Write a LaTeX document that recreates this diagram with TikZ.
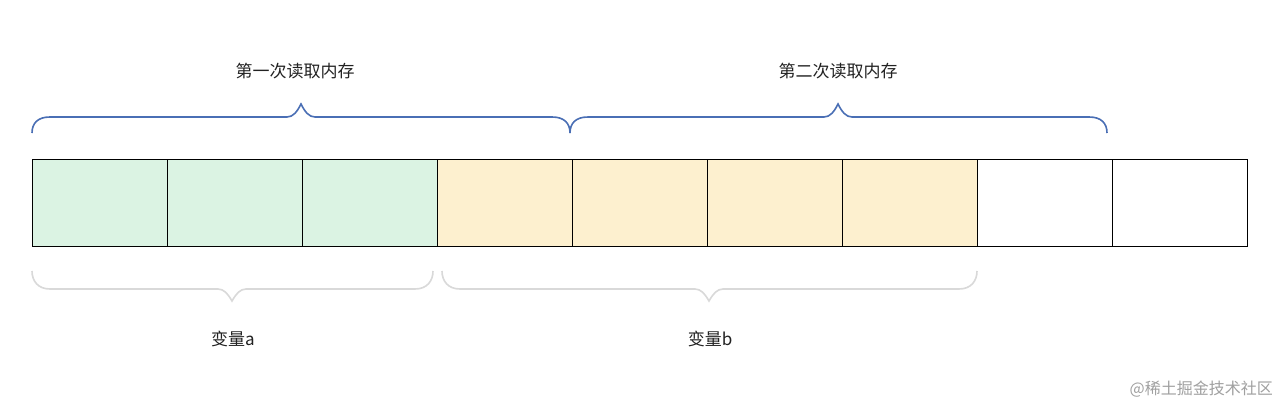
\documentclass[tikz,border=0pt]{standalone}
\usepackage{fontspec}
\setmainfont{Noto Sans CJK SC}
\definecolor{cellgreen}{HTML}{DBF3E3}
\definecolor{cellyellow}{HTML}{FDF0CF}
\definecolor{braceblue}{HTML}{4A6FB5}
\definecolor{bracegray}{HTML}{D9D9D9}
\definecolor{labeltext}{HTML}{222222}
\definecolor{marktext}{HTML}{A0A0A0}
\begin{document}
\begin{tikzpicture}[x=1pt,y=-1pt,
  cell/.style={draw=black,line width=1.2pt,minimum width=135pt,minimum height=87pt,inner sep=0pt,anchor=north west},
  topbrace/.style={draw=braceblue,line width=1.6pt},
  botbrace/.style={draw=bracegray,line width=1.6pt},
  lbl/.style={font=\fontsize{17}{20}\selectfont,text=labeltext,inner sep=0pt}]
\useasboundingbox[fill=white] (0,0) rectangle (1280,407);
% cells
\node[cell,fill=cellgreen] (c1) at (32,159) {};
\node[cell,fill=cellgreen] (c2) at (167,159) {};
\node[cell,fill=cellgreen] (c3) at (302,159) {};
\node[cell,fill=cellyellow] (c4) at (437,159) {};
\node[cell,fill=cellyellow] (c5) at (572,159) {};
\node[cell,fill=cellyellow] (c6) at (707,159) {};
\node[cell,fill=cellyellow] (c7) at (842,159) {};
\node[cell,fill=white] (c8) at (977,159) {};
\node[cell,fill=white] (c9) at (1112,159) {};
% top braces
\draw[topbrace] (32,133) .. controls (32,123) and (38,117) .. (50,117) -- (287,117)
  .. controls (293,117) and (297,112) .. (301,104) .. controls (305,112) and (309,117) .. (315,117)
  -- (552,117) .. controls (564,117) and (570,123) .. (570,133);
\draw[topbrace] (570,133) .. controls (570,123) and (576,117) .. (588,117) -- (824,117)
  .. controls (830,117) and (834,112) .. (838,104) .. controls (842,112) and (846,117) .. (852,117)
  -- (1089,117) .. controls (1101,117) and (1107,123) .. (1107,133);
% bottom braces
\draw[botbrace] (32,271) .. controls (32,281) and (38,289) .. (50,289) -- (218,289)
  .. controls (224,289) and (228,294) .. (232,301) .. controls (236,294) and (240,289) .. (246,289)
  -- (415,289) .. controls (427,289) and (433,281) .. (433,271);
\draw[botbrace] (442,271) .. controls (442,281) and (448,289) .. (460,289) -- (695,289)
  .. controls (701,289) and (705,294) .. (709,301) .. controls (713,294) and (717,289) .. (723,289)
  -- (959,289) .. controls (971,289) and (977,281) .. (977,271);
% labels
\node[lbl] (t1) at (295,71) {第一次读取内存};
\node[lbl] (t2) at (838,71) {第二次读取内存};
\node[lbl] (va) at (233,339) {变量a};
\node[lbl] (vb) at (710,339) {变量b};
\node[font=\fontsize{16}{18}\selectfont,text=marktext,inner sep=0pt,anchor=east] (wm) at (1273,389) {@稀土掘金技术社区};
\end{tikzpicture}
\end{document}
